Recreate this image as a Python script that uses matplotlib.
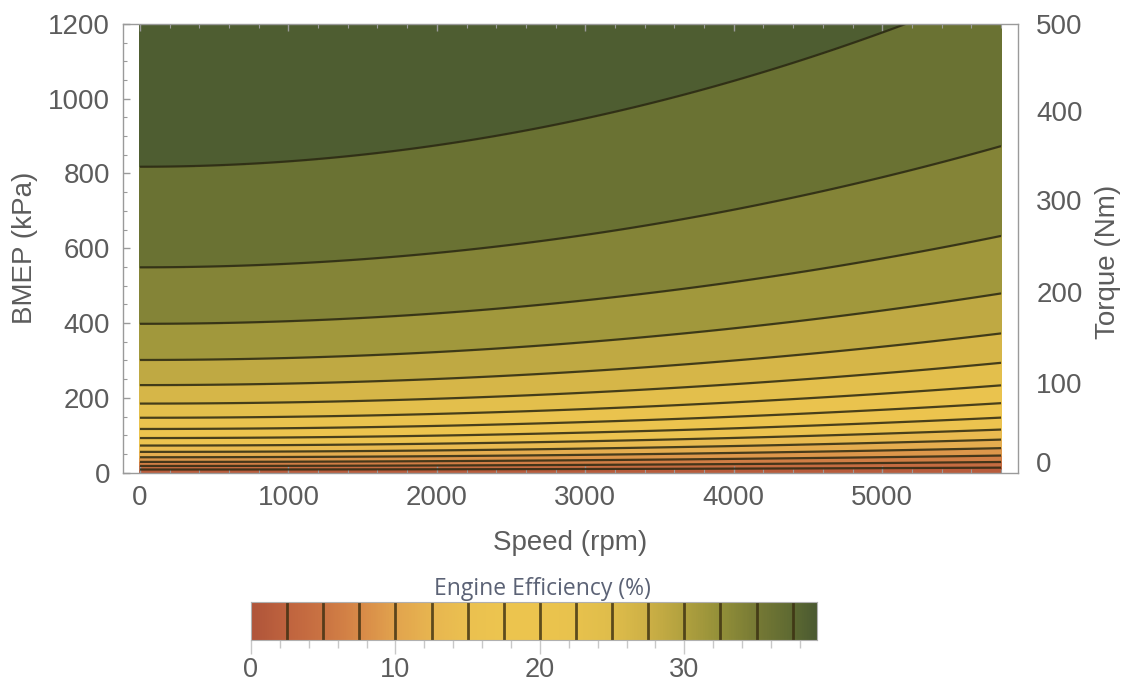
import numpy as np
import matplotlib
matplotlib.use("Agg")
import matplotlib.pyplot as plt
from matplotlib.colors import LinearSegmentedColormap, Normalize
from matplotlib.ticker import MultipleLocator

plt.rcParams["font.family"] = ["Liberation Sans", "DejaVu Sans"]

# engine map parameters
# brake efficiency = indicated efficiency * BMEP / (BMEP + FMEP(speed))
eta_indicated = 43.9          # %
fmep_idle = 139.6             # kPa at 0 rpm
fmep_quad = 2.45e-6           # kPa / rpm^2
speed_max = 5800              # rpm
bmep_max = 1200               # kPa

levels = [0, 2.5, 5, 7.5, 10, 12.5, 15, 17.5, 20, 22.5, 25, 27.5,
          30, 32.5, 35, 37.5, 40]
eff_max = 39.2

# colour scale (efficiency value, colour)
cmap_values = [0, 2.5, 5, 7.5, 10, 12.5, 15, 17.5, 20, 22.5, 25, 27.5,
               30, 32.5, 35, 37.5, 39.2]
cmap_colors = ["#b0553a", "#c0643f", "#cb7443", "#d88a48", "#e2a44e",
               "#e8b650", "#ebc150", "#edc54f", "#ecc44e", "#e8c24d",
               "#dfbd4b", "#cdb046", "#b1a13f", "#939039", "#777a35",
               "#5e6a32", "#4b5a31"]

# torque labels on the right frame, placed at their BMEP heights
torque_labels = ["0", "100", "200", "300", "400", "500"]
torque_at_bmep = [29, 241, 484, 730, 968, 1200]

cbar_ticks = [0, 10, 20, 30]

TEXT = "#5c5c5c"
FRAME = "#9a9a9a"


def main():
    cmap = LinearSegmentedColormap.from_list(
        "eff", list(zip(np.array(cmap_values) / eff_max, cmap_colors)))
    norm = Normalize(0, eff_max)

    speed = np.linspace(0, speed_max, 400)
    bmep = np.linspace(0, bmep_max, 600)
    S, B = np.meshgrid(speed, bmep)
    fmep = fmep_idle + fmep_quad * S ** 2
    eff = eta_indicated * B / (B + fmep)

    fig = plt.figure(figsize=(11.28, 6.9), dpi=100)
    ax = fig.add_axes([0.1088, 0.315, 0.7939, 0.6504])

    ax.contourf(S, B, eff, levels=levels, cmap=cmap, norm=norm)
    ax.contour(S, B, eff, levels=levels[1:-1], colors="#2b2812",
               linewidths=1.6, alpha=0.85)

    ax.set_xlim(-116, 5916)
    ax.set_ylim(0, bmep_max)
    ax.xaxis.set_major_locator(MultipleLocator(1000))
    ax.xaxis.set_minor_locator(MultipleLocator(200))
    ax.yaxis.set_major_locator(MultipleLocator(200))
    ax.yaxis.set_minor_locator(MultipleLocator(50))
    ax.tick_params(which="both", direction="in", top=True, right=True,
                   color=FRAME, labelcolor=TEXT, labelsize=20)
    ax.tick_params(which="major", length=5, width=1)
    ax.tick_params(which="minor", length=3, width=0.8)
    ax.tick_params(axis="x", pad=9)
    ax.tick_params(axis="y", pad=9)
    for s in ax.spines.values():
        s.set_color(FRAME)
        s.set_linewidth(1)

    ax2 = ax.twinx()
    ax2.set_ylim(0, bmep_max)
    ax2.set_yticks(torque_at_bmep)
    ax2.set_yticklabels(torque_labels)
    ax2.tick_params(axis="y", length=0, pad=13, labelcolor=TEXT,
                    labelsize=20)
    for s in ax2.spines.values():
        s.set_visible(False)

    fig.text(570 / 1128, 1 - 543 / 690, "Speed (rpm)", ha="center",
             va="center", fontsize=20, color=TEXT)
    fig.text(25 / 1128, 1 - 248 / 690, "BMEP (kPa)", ha="center",
             va="center", rotation=90, fontsize=20, color=TEXT)
    fig.text(1108 / 1128, 1 - 262 / 690, "Torque (Nm)", ha="center",
             va="center", rotation=90, fontsize=20, color=TEXT)

    # colour bar below the plot
    cax = fig.add_axes([0.2225, 0.0725, 0.502, 0.0551])
    grad = np.linspace(0, eff_max, 600).reshape(1, -1)
    cax.imshow(grad, aspect="auto", cmap=cmap, norm=norm,
               extent=[0, eff_max, 0, 1])
    for lv in levels[1:-1]:
        cax.axvline(lv, color="#3a2e10", lw=2, alpha=0.8)
    cax.set_xlim(0, eff_max)
    cax.set_yticks([])
    cax.set_xticks(cbar_ticks)
    cax.xaxis.set_minor_locator(MultipleLocator(2))
    cax.tick_params(which="both", direction="out", color="#c8c8c8",
                    labelcolor=TEXT, labelsize=19.5)
    cax.tick_params(which="major", length=10, width=1, pad=2)
    cax.tick_params(which="minor", length=6, width=1)
    for s in cax.spines.values():
        s.set_color("#b0b0b0")
        s.set_linewidth(0.8)
    fig.text(542 / 1128, 1 - 589 / 690, "Engine Efficiency (%)",
             ha="center", va="center", fontsize=16.5, color="#5b6275",
             family="Open Sans")

    fig.savefig("out.png", dpi=100)


if __name__ == "__main__":
    main()
